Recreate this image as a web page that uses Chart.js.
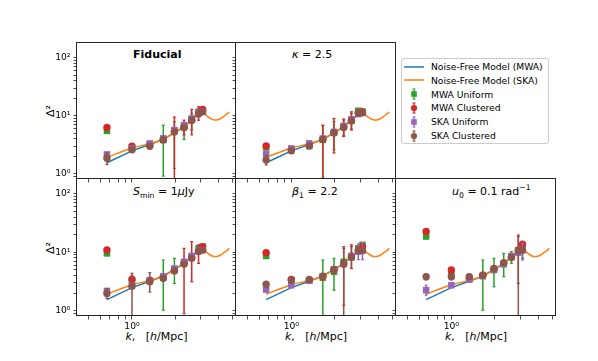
<!DOCTYPE html>
<html>
<head>
<meta charset="utf-8">
<script src="https://cdn.jsdelivr.net/npm/chart.js@4.4.0/dist/chart.umd.min.js"></script>
<style>
  html, body { margin: 0; padding: 0; background: #fff; }
  body { position: relative; width: 598px; height: 361px; overflow: hidden; font-family: "DejaVu Sans", sans-serif; color: #000; }
  canvas { position: absolute; }
  .txt { position: absolute; white-space: nowrap; line-height: 1; }
  .title { font-size: 11px; }
  .xlab { font-size: 11px; transform: translateX(-50%); }
  .ylab { font-size: 11px; transform: translate(-50%, -50%) rotate(-90deg); }
  sub, sup { font-size: 0.7em; line-height: 0; }
  #legend { position: absolute; left: 401px; top: 58px; width: 146px; height: 84px; border: 1px solid #ccc; border-radius: 3px; background: #fff; font-size: 9.2px; }
  .row { position: absolute; left: 0; height: 14px; width: 146px; }
  .row svg { position: absolute; left: 2px; top: 1px; }
  .row span { position: absolute; left: 29px; top: 2.5px; line-height: 1; }
</style>
</head>
<body>

<div class="txt title" style="left:133px;top:49px;font-weight:bold">Fiducial</div>
<div class="txt title" style="left:292px;top:49px"><i>κ</i> = 2.5</div>
<div class="txt title" style="left:133px;top:185.5px"><i>S</i><sub>min</sub> = 1<i>μ</i>Jy</div>
<div class="txt title" style="left:292px;top:185.5px"><i>β</i><sub>1</sub> = 2.2</div>
<div class="txt title" style="left:452px;top:185.5px"><i>u</i><sub>0</sub> = 0.1 rad<sup>−1</sup></div>

<div class="txt ylab" style="left:50px;top:111px">Δ²</div>
<div class="txt ylab" style="left:50px;top:247.5px">Δ²</div>
<div class="txt xlab" style="left:156.5px;top:331px"><i>k</i>,&nbsp;&nbsp;&nbsp;[<i>h</i>/Mpc]</div>
<div class="txt xlab" style="left:316px;top:331px"><i>k</i>,&nbsp;&nbsp;&nbsp;[<i>h</i>/Mpc]</div>
<div class="txt xlab" style="left:476px;top:331px"><i>k</i>,&nbsp;&nbsp;&nbsp;[<i>h</i>/Mpc]</div>

<div id="legend"></div>

<script>
// k bins of the measured points
const kBins = [0.67, 1.0, 1.33, 1.65, 1.97, 2.3, 2.6, 2.9, 3.1];

// noise-free models
const kModelMwa = [0.67, 1.0, 1.33, 1.65, 1.97, 2.3, 2.6, 2.9, 3.1];
const modelMwa  = [1.56, 2.5, 3.2, 3.95, 5.1, 6.5, 8.4, 10.6, 12.0];
const kModelSka = [0.67, 1.0, 1.33, 1.65, 1.97, 2.3, 2.6, 2.9, 3.1, 3.3, 3.5, 3.7, 3.9, 4.1, 4.3, 4.5, 4.75];
const modelSka  = [1.93, 2.8, 3.3, 3.95, 5.1, 6.5, 8.4, 10.6, 12.0, 10.0, 9.0, 8.5, 8.5, 8.9, 9.6, 10.5, 11.6];

// Fiducial
const fidMwaUni = [5.5, 2.85, 3.25, 3.85, 5.5, 6.6, 8.7, 11.7, 12.5];
const fidMwaUniErr = [[5.0,6.0],[2.6,3.1],[3.0,3.5],[0.92,6.9],[1.25,7.9],[3.9,7.6],[5.7,11],[10.5,13],[11.3,13.8]];
const fidMwaClu = [6.3, 3.0, 3.15, 3.95, 5.3, 6.3, 8.4, 11.3, 12.8];
const fidMwaCluErr = [[5.8,6.8],[2.7,3.3],[2.9,3.4],[3.5,4.4],[0.1,9.5],[4.7,8.4],[4.7,12.9],[8.4,14.3],[11.5,14]];
const fidSkaUni = [2.17, 2.75, 3.35, 4.1, 5.7, 6.9, 9.0, 11.3, 11.7];
const fidSkaUniErr = [[2.0,2.35],[2.55,2.95],[3.1,3.6],[3.8,4.4],[5.3,6.1],[6.4,7.4],[8.4,9.6],[10.5,12.1],[10.9,12.5]];
const fidSkaClu = [1.86, 2.6, 3.0, 3.85, 5.3, 6.3, 8.4, 10.7, 11.7];
const fidSkaCluErr = [[1.45,2.3],[2.35,2.85],[2.75,3.3],[3.5,4.2],[4.9,5.7],[5.8,6.8],[7.8,9.0],[9.9,11.5],[10.9,12.5]];

// kappa = 2.5
const kapMwaUni = [2.87, 2.58, 3.02, 3.85, 5.1, 6.5, 8.4, 12.2, 11.7];
const kapMwaUniErr = [[2.6,3.2],[2.35,2.8],[2.75,3.3],[0.85,6.8],[2.6,8.0],[4.6,8.4],[5.9,11],[11.2,13.2],[10.8,12.6]];
const kapMwaClu = [3.02, 2.65, 3.14, 3.93, 5.1, 6.47, 8.2, 11.3, 11.7];
const kapMwaCluErr = [[2.75,3.3],[2.4,2.9],[2.9,3.4],[0.8,6.9],[2.3,9.0],[4.4,8.8],[5.7,11.7],[10.2,12.4],[10.8,12.6]];
const kapSkaUni = [2.2, 2.75, 3.36, 4.08, 5.3, 6.7, 8.7, 10.7, 11.3];
const kapSkaUniErr = [[2.0,2.4],[2.55,2.95],[3.1,3.6],[3.8,4.4],[4.9,5.7],[6.2,7.2],[8.1,9.3],[9.9,11.5],[10.5,12.1]];
const kapSkaClu = [1.74, 2.51, 3.02, 3.93, 5.1, 6.3, 8.2, 11.0, 11.3];
const kapSkaCluErr = [[1.43,2.1],[2.3,2.75],[2.8,3.25],[3.6,4.25],[4.7,5.5],[5.8,6.8],[7.6,8.8],[10.2,11.8],[10.5,12.1]];

// S_min = 1 uJy
const smMwaUni = [9.6, 3.36, 3.27, 3.7, 5.0, 6.6, 8.4, 11.7, 12.5];
const smMwaUniErr = [[8.8,10.4],[3.1,3.6],[3.0,3.5],[1.03,7.4],[2.94,7.9],[6.0,7.2],[7.3,9.5],[10.6,12.8],[11.5,13.5]];
const smMwaClu = [11.0, 3.44, 3.36, 3.83, 4.85, 6.47, 8.2, 10.6, 12.5];
const smMwaCluErr = [[10.2,11.8],[2.9,4.0],[3.0,3.7],[3.5,4.2],[4.4,5.3],[0.9,11.7],[3.14,15.2],[6.47,13.4],[11.5,13.5]];
const smSkaUni = [2.2, 2.75, 3.27, 3.9, 5.3, 6.9, 8.7, 10.6, 10.9];
const smSkaUniErr = [[2.0,2.4],[2.55,2.95],[3.0,3.5],[3.6,4.2],[4.9,5.7],[6.4,7.4],[8.1,9.3],[9.8,11.4],[10.1,11.7]];
const smSkaClu = [1.98, 2.65, 3.14, 3.6, 4.85, 6.3, 7.9, 10.3, 10.9];
const smSkaCluErr = [[1.63,2.4],[0.3,4.4],[2.1,4.5],[3.2,4.0],[4.4,5.3],[5.7,6.9],[7.2,8.6],[9.5,11.1],[10.1,11.7]];

// beta_1 = 2.2
const betMwaUni = [8.66, 3.27, 3.27, 3.7, 4.66, 6.9, 8.2, 11.7, 13.4];
const betMwaUniErr = [[7.9,9.4],[3.0,3.55],[3.0,3.55],[0.5,7.4],[2.26,7.9],[6.3,7.6],[7.4,9.0],[10.7,12.7],[12.3,14.5]];
const betMwaClu = [9.87, 3.44, 3.36, 3.83, 4.98, 6.47, 8.66, 10.9, 12.5];
const betMwaCluErr = [[9.1,10.7],[3.15,3.75],[3.1,3.65],[3.5,4.2],[4.55,5.4],[1.25,11.7],[5.3,13.4],[9.9,11.9],[11.5,13.5]];
const betSkaUni = [2.32, 2.75, 3.27, 3.93, 5.1, 6.3, 8.66, 10.3, 10.6];
const betSkaUniErr = [[2.1,2.55],[2.5,3.0],[3.0,3.55],[3.6,4.3],[4.7,5.5],[5.8,6.8],[7.9,9.5],[7.5,14.0],[7.5,14.6]];
const betSkaClu = [2.86, 3.36, 3.44, 3.93, 5.1, 6.3, 8.2, 10.6, 10.9];
const betSkaCluErr = [[2.6,3.1],[3.1,3.65],[3.2,3.7],[3.6,4.3],[4.7,5.5],[0.2,12.5],[5.3,12.5],[9.7,11.5],[10.0,11.8]];

// u_0 = 0.1 rad^-1
const u0MwaUni = [18.6, 4.08, 3.44, 3.93, 4.98, 6.3, 8.4, 10.9, 11.7];
const u0MwaUniErr = [[17,20.3],[3.7,4.5],[3.2,3.7],[1.03,7.4],[2.58,7.9],[3.83,9.6],[6.5,10.3],[10,11.8],[7.9,15.2]];
const u0MwaClu = [22.6, 4.98, 3.6, 4.08, 5.1, 6.47, 8.2, 10.9, 13.7];
const u0MwaCluErr = [[21,24.2],[4.6,5.4],[3.3,3.9],[3.75,4.45],[4.7,5.5],[6.0,7.0],[7.6,8.8],[2.94,18.6],[12.7,14.7]];
const u0SkaUni = [2.26, 2.75, 3.44, 3.93, 5.1, 6.3, 8.66, 9.87, 10.9];
const u0SkaUniErr = [[1.86,2.75],[2.5,3.0],[3.2,3.7],[3.6,4.3],[4.7,5.5],[5.8,6.8],[8.0,9.4],[9.1,10.7],[7.4,14.3]];
const u0SkaClu = [3.83, 3.83, 3.83, 4.08, 5.3, 6.66, 8.2, 10.6, 10.9];
const u0SkaCluErr = [[3.4,4.3],[3.4,4.3],[3.5,4.2],[3.75,4.45],[4.9,5.7],[6.2,7.2],[7.6,8.8],[0.1,19.8],[10.1,11.7]];

const seriesNames = ["MWA Uniform", "MWA Clustered", "SKA Uniform", "SKA Clustered"];
const modelNames = ["Noise-Free Model (MWA)", "Noise-Free Model (SKA)"];

// axis ranges and tick labels
const X_MIN = 0.415, X_MAX = 5.28;
const Y_MIN = 0.82, Y_MAX = 178;
const powLabels = { 0: "10⁰", 1: "10¹", 2: "10²" };

// styling
const COLORS = ["#2ca02c", "#d62728", "#9467bd", "#8c564b"];
const SHAPES = ["rect", "circle", "rect", "circle"];
const RADII = [4.6, 3.7, 4.6, 3.7];
const BLUE = "#1f77b4", ORANGE = "#ff7f0e";
const FONT = { family: "DejaVu Sans", size: 9.2 };

// panel grid in page pixels
const COLS = [77, 236, 396, 556];
const ROWS = [43, 179, 316];
const PAD_L = 50, PAD_T = 12, PAD_R = 12, PAD_B = 40;

function logTicks(min, max) {
  const out = [];
  for (let e = Math.floor(Math.log10(min)); e <= Math.ceil(Math.log10(max)); e++) {
    for (let m = 1; m <= 9; m++) {
      const v = m * Math.pow(10, e);
      if (v >= min && v <= max) out.push({ value: v });
    }
  }
  return out;
}

function powLabel(v) {
  const e = Math.log10(v);
  const r = Math.round(e);
  return Math.abs(e - r) < 1e-6 && powLabels[r] ? powLabels[r] : "";
}

const frame = {
  id: "frame",
  afterDraw(chart) {
    const { ctx, chartArea: a } = chart;
    ctx.save();
    ctx.strokeStyle = "#222";
    ctx.lineWidth = 1;
    ctx.strokeRect(a.left - 0.5, a.top - 0.5, a.right - a.left, a.bottom - a.top);
    ctx.restore();
  }
};

function axis(isX, showLabels) {
  const min = isX ? X_MIN : Y_MIN, max = isX ? X_MAX : Y_MAX;
  return {
    type: "logarithmic",
    min, max,
    afterBuildTicks: s => { s.ticks = logTicks(min, max); },
    afterFit: s => { if (isX) s.height = PAD_B; else s.width = PAD_L; },
    border: { display: false },
    grid: { drawOnChartArea: false, drawTicks: true, tickLength: 3.5, color: "#222", lineWidth: 0.8 },
    ticks: {
      autoSkip: false, maxRotation: 0, minRotation: 0,
      padding: isX ? 2 : 3,
      color: "#000", font: FONT,
      callback: v => showLabels ? powLabel(v) : ""
    }
  };
}

function addPanel(col, row, vals, errs, showY, showX) {
  const left = COLS[col], top = ROWS[row];
  const w = COLS[col + 1] - left, h = ROWS[row + 1] - top;
  const canvas = document.createElement("canvas");
  canvas.width = w + PAD_L + PAD_R;
  canvas.height = h + PAD_T + PAD_B;
  canvas.style.left = (left - PAD_L) + "px";
  canvas.style.top = (top - PAD_T) + "px";
  canvas.style.width = canvas.width + "px";
  canvas.style.height = canvas.height + "px";
  document.body.appendChild(canvas);

  const datasets = [
    { label: modelNames[0], data: kModelMwa.map((k, i) => ({ x: k, y: modelMwa[i] })),
      showLine: true, pointRadius: 0, borderColor: BLUE, borderWidth: 1.5, order: 100 },
    { label: modelNames[1], data: kModelSka.map((k, i) => ({ x: k, y: modelSka[i] })),
      showLine: true, pointRadius: 0, borderColor: ORANGE, borderWidth: 1.5, tension: 0.3, order: 99 }
  ];

  vals.forEach((v, s) => {
    const bars = [];
    errs[s].forEach(([lo, hi], i) => {
      bars.push({ x: kBins[i], y: lo }, { x: kBins[i], y: hi }, { x: kBins[i], y: null });
    });
    datasets.push({
      label: seriesNames[s] + " err", data: bars, showLine: true, spanGaps: false,
      borderColor: COLORS[s], borderWidth: 1.5,
      pointStyle: "line", pointRadius: 1.5, pointBorderColor: COLORS[s], pointBorderWidth: 1.2,
      order: 50 - 2 * s
    });
    datasets.push({
      label: seriesNames[s], data: kBins.map((k, i) => ({ x: k, y: v[i] })), showLine: false,
      pointStyle: SHAPES[s], pointRadius: RADII[s], pointBackgroundColor: COLORS[s], pointBorderWidth: 0,
      order: 49 - 2 * s
    });
  });

  new Chart(canvas, {
    type: "scatter",
    data: { datasets },
    options: {
      responsive: false,
      animation: false,
      events: [],
      layout: { padding: { left: 0, top: PAD_T, right: PAD_R, bottom: 0 } },
      plugins: { legend: { display: false }, tooltip: { enabled: false } },
      scales: { x: axis(true, showX), y: axis(false, showY) }
    },
    plugins: [frame]
  });
}

addPanel(0, 0, [fidMwaUni, fidMwaClu, fidSkaUni, fidSkaClu], [fidMwaUniErr, fidMwaCluErr, fidSkaUniErr, fidSkaCluErr], true, false);
addPanel(1, 0, [kapMwaUni, kapMwaClu, kapSkaUni, kapSkaClu], [kapMwaUniErr, kapMwaCluErr, kapSkaUniErr, kapSkaCluErr], false, false);
addPanel(0, 1, [smMwaUni, smMwaClu, smSkaUni, smSkaClu], [smMwaUniErr, smMwaCluErr, smSkaUniErr, smSkaCluErr], true, true);
addPanel(1, 1, [betMwaUni, betMwaClu, betSkaUni, betSkaClu], [betMwaUniErr, betMwaCluErr, betSkaUniErr, betSkaCluErr], false, true);
addPanel(2, 1, [u0MwaUni, u0MwaClu, u0SkaUni, u0SkaClu], [u0MwaUniErr, u0MwaCluErr, u0SkaUniErr, u0SkaCluErr], false, true);

// legend
const legend = document.getElementById("legend");
const entries = [
  { name: modelNames[0], color: BLUE, line: true },
  { name: modelNames[1], color: ORANGE, line: true }
].concat(seriesNames.map((n, s) => ({ name: n, color: COLORS[s], shape: SHAPES[s] })));

entries.forEach((e, i) => {
  const row = document.createElement("div");
  row.className = "row";
  row.style.top = (0.5 + i * 13.8) + "px";
  let icon;
  if (e.line) {
    icon = `<line x1="0" y1="6" x2="20" y2="6" stroke="${e.color}" stroke-width="1.5"/>`;
  } else {
    const mark = e.shape === "rect"
      ? `<rect x="7.2" y="3.2" width="5.6" height="5.6" fill="${e.color}"/>`
      : `<circle cx="10" cy="6" r="3.1" fill="${e.color}"/>`;
    icon = `<line x1="10" y1="1" x2="10" y2="11" stroke="${e.color}" stroke-width="1.3"/>` +
           `<line x1="8.5" y1="1" x2="11.5" y2="1" stroke="${e.color}" stroke-width="1.1"/>` +
           `<line x1="8.5" y1="11" x2="11.5" y2="11" stroke="${e.color}" stroke-width="1.1"/>` + mark;
  }
  row.innerHTML = `<svg width="20" height="12">${icon}</svg><span>${e.name}</span>`;
  legend.appendChild(row);
});
</script>
</body>
</html>
